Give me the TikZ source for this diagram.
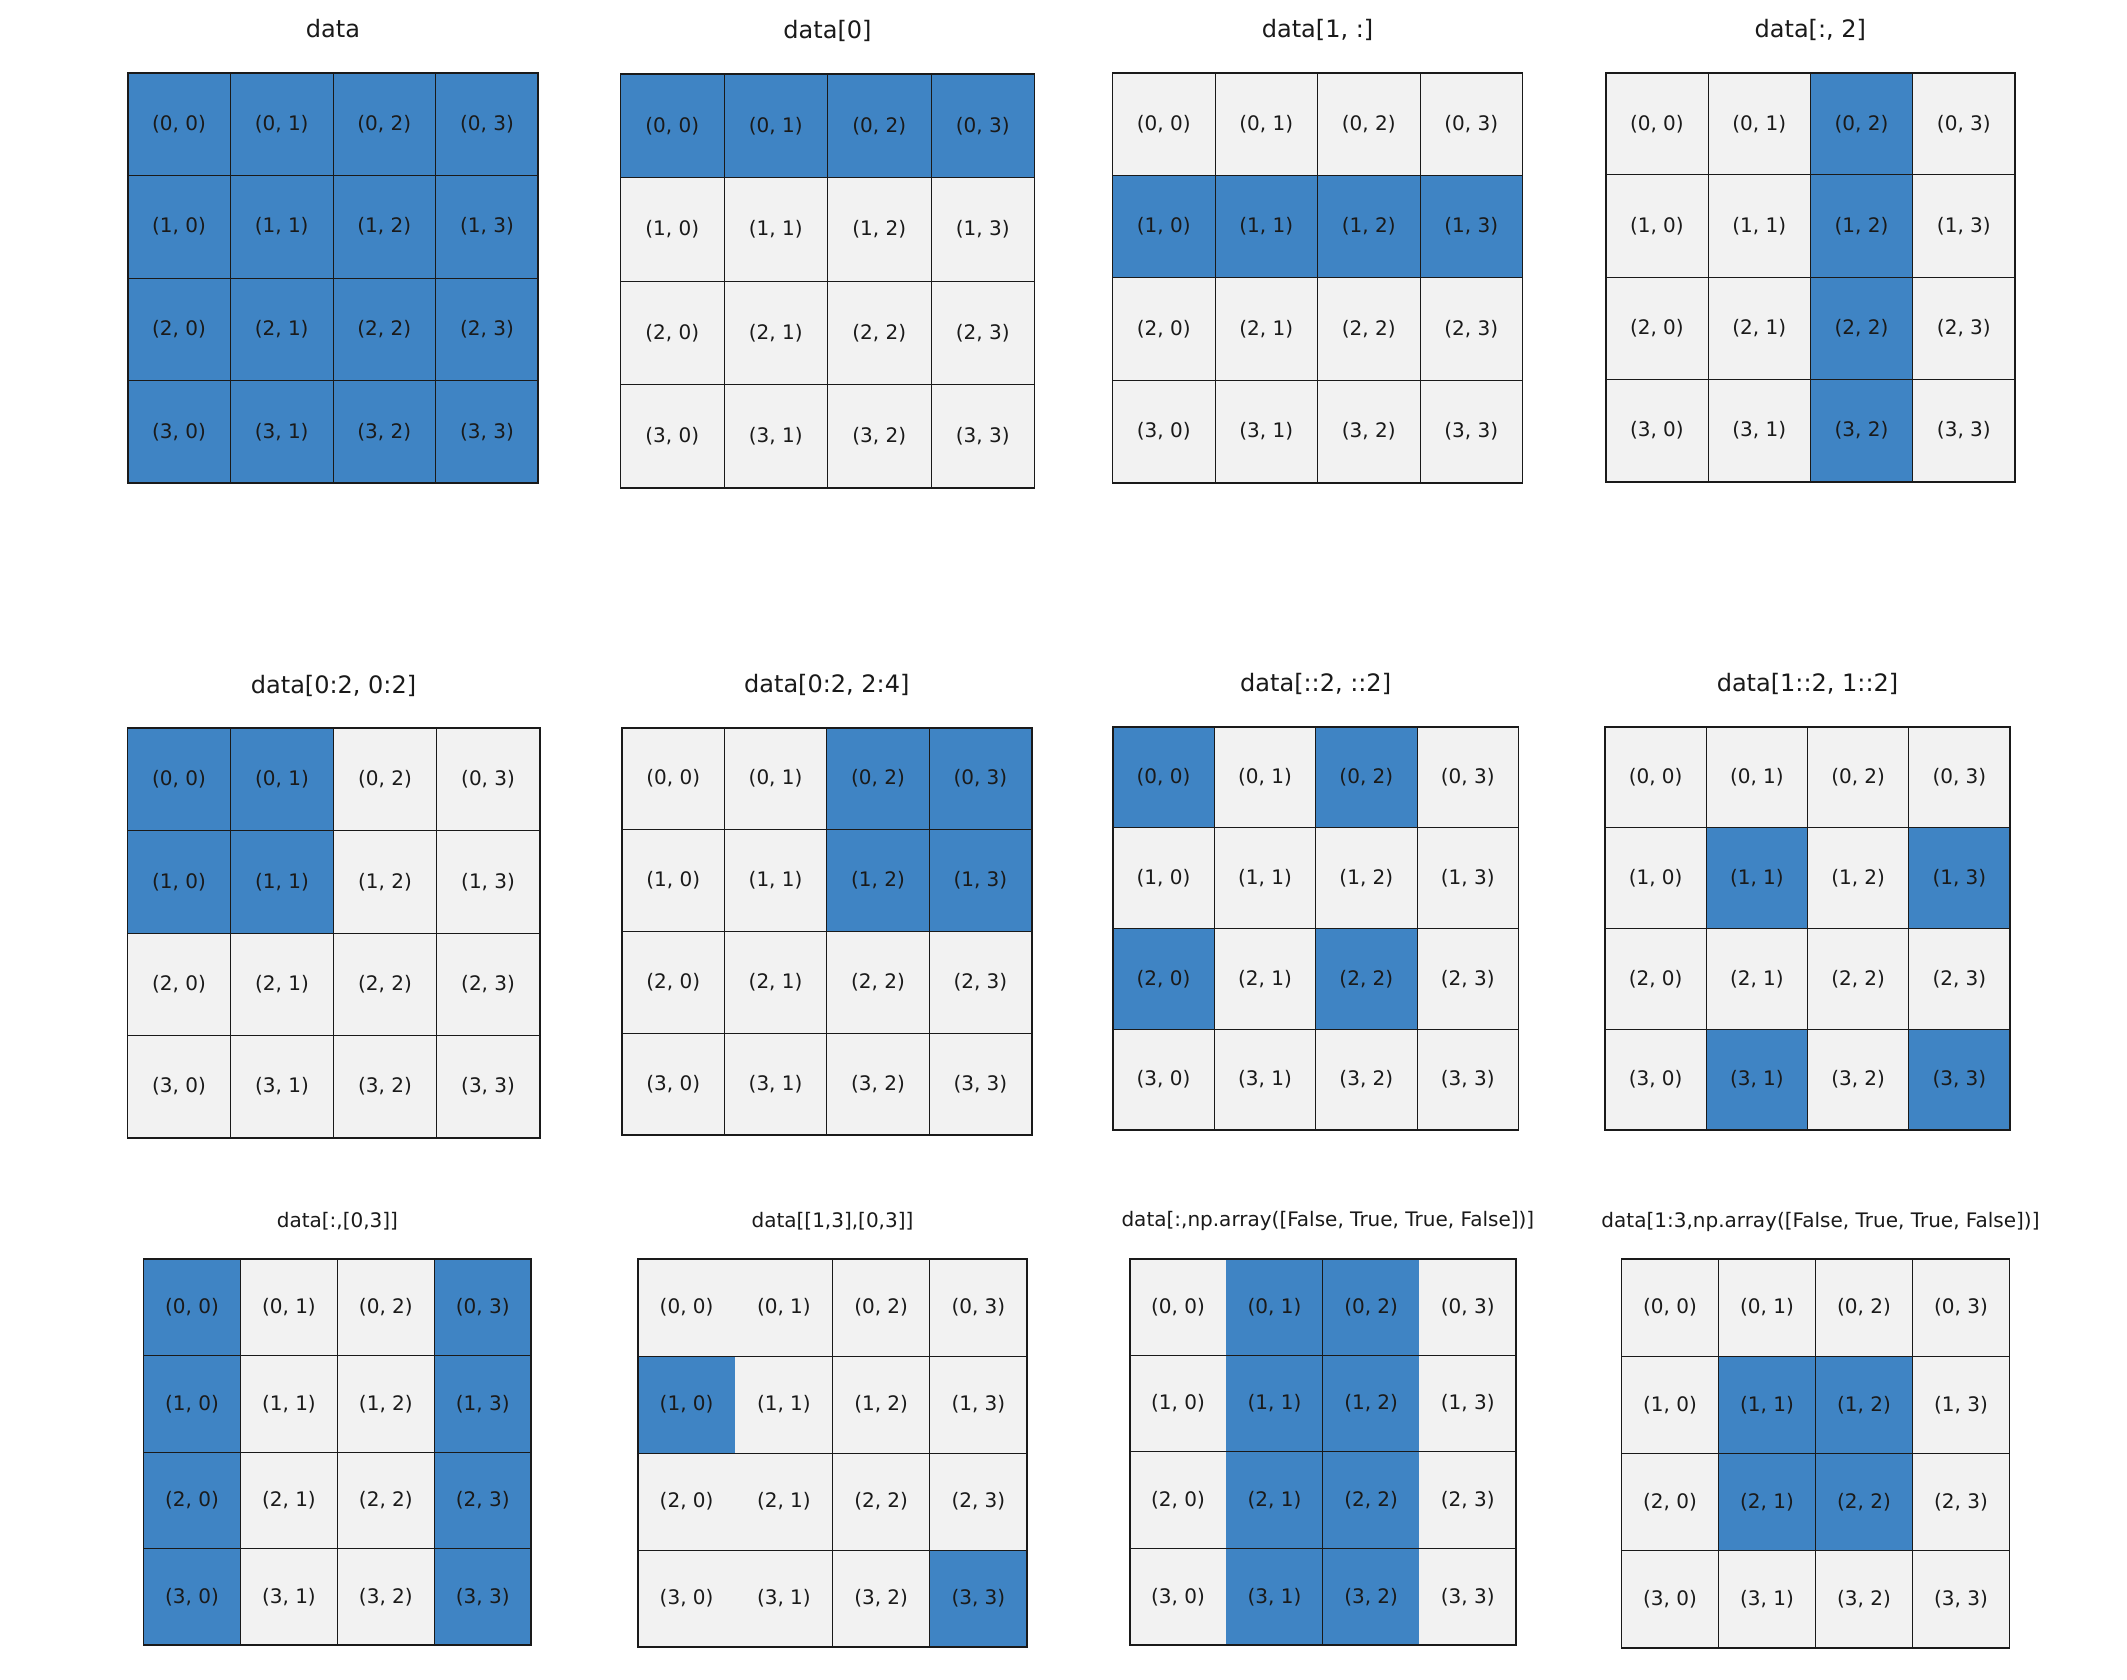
\documentclass[tikz,border=0pt]{standalone}
\usepackage{fontspec}
\setmainfont{DejaVu Sans}
\usepackage{xcolor}
\definecolor{picked}{RGB}{63,132,196}
\definecolor{rest}{RGB}{242,242,242}
\definecolor{edge}{RGB}{26,26,26}
\tikzset{
    bigtitle/.style={font=\fontsize{24}{28}\selectfont,text=edge,anchor=base,yshift=35pt},
    smalltitle/.style={font=\fontsize{20}{24}\selectfont,text=edge,anchor=base,yshift=32pt},
    celllabel/.style={font=\fontsize{20}{24}\selectfont,text=edge,inner sep=0pt},
    gridline/.style={draw=edge,line width=0.9pt},
    frameline/.style={draw=edge,line width=1.8pt}
}
% [title style]{name}{left}{top}{right}{bottom}{title}{picked cells}{inner columns}
\newcommand{\slicepanel}[9][bigtitle]{
    \pgfmathsetmacro{\cw}{(#5-#3)/4}
    \pgfmathsetmacro{\ch}{(#6-#4)/4}
    \fill[rest] (#3,#4) rectangle (#5,#6);
    \foreach \k in {#8}{
        \pgfmathtruncatemacro{\rr}{div(\k,4)}
        \pgfmathtruncatemacro{\cc}{mod(\k,4)}
        \fill[picked] ({#3+\cc*\cw},{#4+\rr*\ch}) rectangle ++(\cw,\ch);
    }
    \foreach \row in {1,2,3}
        \draw[gridline] (#3,{#4+\row*\ch}) -- (#5,{#4+\row*\ch});
    \foreach \col in {#9}
        \draw[gridline] ({#3+\col*\cw},#4) -- ({#3+\col*\cw},#6);
    \draw[frameline] (#3,#4) rectangle (#5,#6);
    \foreach \row in {0,...,3}
        \foreach \col in {0,...,3}
            \node[celllabel] (#2-\row-\col) at ({#3+(\col+0.5)*\cw},{#4+(\row+0.5)*\ch}) {(\row, \col)};
    \node[#1] (#2-title) at ({(#3+#5)/2},#4) {#7};
}

\begin{document}
\begin{tikzpicture}[x=1pt,y=-1pt]
    \useasboundingbox (0,0) rectangle (2127,1680);
    \fill[white] (0,0) rectangle (2127,1680);
    % top row
    \slicepanel{p1}{127.7}{72.7}{538.3}{483.3}{data}{0,...,15}{1,2,3}
    \slicepanel{p2}{620.5}{74}{1034.5}{488.3}{data[0]}{0,1,2,3}{1,2,3}
    \slicepanel{p3}{1112.5}{72.7}{1522.5}{482.7}{data[1, :]}{4,5,6,7}{1,2,3}
    \slicepanel{p4}{1605.7}{72.7}{2015}{481.7}{data[:, 2]}{2,6,10,14}{1,2,3}
    % middle row
    \slicepanel{p5}{127.5}{728.3}{539.6}{1137.7}{data[0:2, 0:2]}{0,1,4,5}{1,2,3}
    \slicepanel{p6}{622}{727.7}{1031.6}{1135}{data[0:2, 2:4]}{2,3,6,7}{1,2,3}
    \slicepanel{p7}{1112.8}{726.7}{1518.5}{1130}{data[::2, ::2]}{0,2,8,10}{1,2,3}
    \slicepanel{p8}{1605}{726.7}{2010}{1130}{data[1::2, 1::2]}{5,7,13,15}{1,2,3}
    % bottom row
    \slicepanel[smalltitle]{p9}{143.5}{1259}{531.3}{1645}{data[:,[0,3]]}{0,3,4,7,8,11,12,15}{1,2,3}
    \slicepanel[smalltitle]{p10}{638}{1259}{1027}{1647}{data[[1,3],[0,3]]}{4,15}{2,3}
    \slicepanel[smalltitle,xshift=5pt]{p11}{1129.7}{1258.7}{1516}{1645}{data[:,np.array([False, True, True, False])]}{1,2,5,6,9,10,13,14}{2}
    \slicepanel[smalltitle,xshift=5pt]{p12}{1621.5}{1259}{2009.5}{1648}{data[1:3,np.array([False, True, True, False])]}{5,6,9,10}{1,2,3}
\end{tikzpicture}
\end{document}
